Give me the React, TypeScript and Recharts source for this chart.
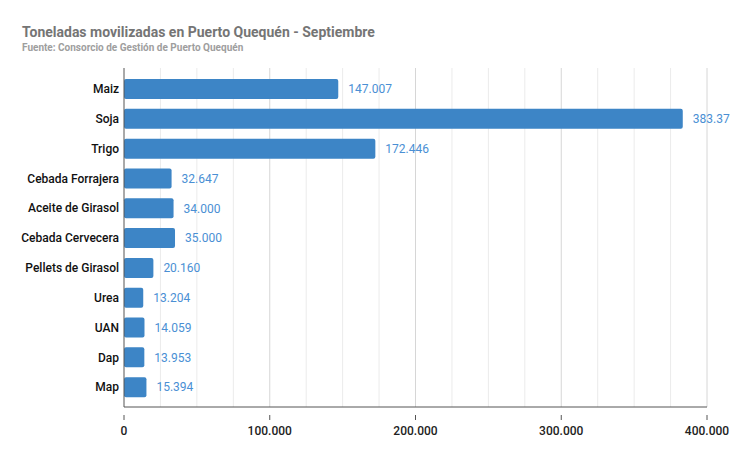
import { Bar, BarChart, CartesianGrid, LabelList, XAxis, YAxis } from "recharts"

const categories = [
  "Maiz",
  "Soja",
  "Trigo",
  "Cebada Forrajera",
  "Aceite de Girasol",
  "Cebada Cervecera",
  "Pellets de Girasol",
  "Urea",
  "UAN",
  "Dap",
  "Map",
]
const toneladas = [147007, 383370, 172446, 32647, 34000, 35000, 20160, 13204, 14059, 13953, 15394]
const valueLabels = [
  "147.007",
  "383.37",
  "172.446",
  "32.647",
  "34.000",
  "35.000",
  "20.160",
  "13.204",
  "14.059",
  "13.953",
  "15.394",
]
const gridTicks = [0, 25000, 50000, 75000, 100000, 125000, 150000, 175000, 200000, 225000, 250000, 275000, 300000, 325000, 350000, 375000, 400000]
const tickLabels: Record<number, string> = { 0: "0", 100000: "100.000", 200000: "200.000", 300000: "300.000", 400000: "400.000" }

const data = categories.map((name, i) => ({ name, total: toneladas[i], label: valueLabels[i] }))

const font = "Roboto, 'Noto Sans', sans-serif"

function XTick(props: any) {
  const { x, y, payload } = props
  const text = tickLabels[payload.value]
  if (text === undefined) return null
  return (
    <g>
      <line x1={x} x2={x} y1={y} y2={y + 5} stroke="#555" strokeWidth={1} />
      <text x={x} y={y + 20} textAnchor="middle" fontSize={12} fontWeight={500} fill="#222" fontFamily={font}>
        {text}
      </text>
    </g>
  )
}

function GridLine(props: any) {
  const { x1, x2, y1, y2, index } = props
  if (index === 0) return null
  const major = index % 4 === 0
  return <line x1={x1} x2={x2} y1={y1} y2={y2} stroke={major ? "#d6d6d6" : "#ebebeb"} strokeWidth={1} />
}

export default function App() {
  return (
    <div style={{ position: "absolute", left: 0, top: 0, width: 730, height: 452, background: "#fff", fontFamily: font }}>
      <div style={{ position: "absolute", left: 22, top: 24, fontSize: 14, fontWeight: "bold", color: "#757575" }}>
        Toneladas movilizadas en Puerto Quequén - Septiembre
      </div>
      <div style={{ position: "absolute", left: 22, top: 42, fontSize: 10, fontWeight: "bold", color: "#9e9e9e" }}>
        Fuente: Consorcio de Gestión de Puerto Quequén
      </div>
      <BarChart
        width={730}
        height={452}
        data={data}
        layout="vertical"
        margin={{ top: 68, right: 23, bottom: 15, left: 0 }}
      >
        <CartesianGrid horizontal={false} vertical={GridLine} />
        <XAxis
          type="number"
          domain={[0, 400000]}
          ticks={gridTicks}
          interval={0}
          tick={XTick}
          tickLine={false}
          axisLine={{ stroke: "#555" }}
          height={30}
        />
        <YAxis
          type="category"
          dataKey="name"
          width={124}
          tickLine={false}
          tickSize={0}
          tickMargin={5}
          padding={{ top: 6, bottom: 5 }}
          axisLine={{ stroke: "#555" }}
          tick={{ fontSize: 12, fontWeight: 500, fill: "#111", fontFamily: font }}
          interval={0}
        />
        <Bar dataKey="total" fill="#3d85c6" barSize={20} radius={2} isAnimationActive={false}>
          <LabelList dataKey="label" position="right" offset={10} fill="#4a8fd4" fontSize={12} fontFamily={font} />
        </Bar>
      </BarChart>
    </div>
  )
}
